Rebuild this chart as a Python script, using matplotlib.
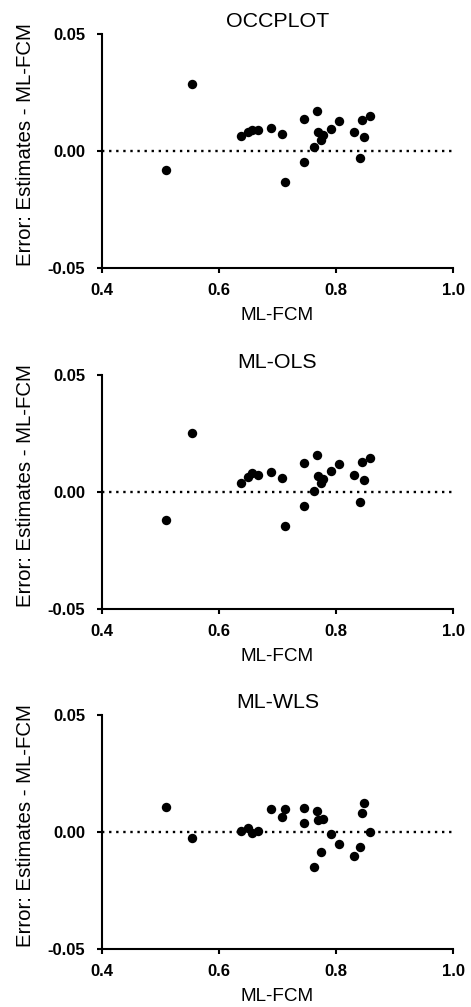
import numpy as np
import matplotlib
matplotlib.use('Agg')
import matplotlib.pyplot as plt

plt.rcParams['font.family'] = ['Liberation Sans', 'DejaVu Sans']

# ML-FCM values (shared x)
ml_fcm = [0.510, 0.554, 0.637, 0.650, 0.657, 0.666, 0.689, 0.707, 0.713, 0.745, 0.746, 0.763,
          0.767, 0.769, 0.774, 0.777, 0.791, 0.805, 0.831, 0.840, 0.845, 0.848, 0.858]

err_occplot = [-0.0080, 0.0286, 0.0063, 0.0080, 0.0090, 0.0091, 0.0100, 0.0075, -0.0131, 0.0139,
               -0.0048, 0.0018, 0.0169, 0.0080, 0.0048, 0.0067, 0.0095, 0.0129, 0.0080, -0.0031,
               0.0134, 0.0061, 0.0149]

err_mlols = [-0.0119, 0.0253, 0.0038, 0.0065, 0.0083, 0.0075, 0.0087, 0.0061, -0.0145, 0.0125,
             -0.0058, 0.0006, 0.0158, 0.0068, 0.0041, 0.0057, 0.0090, 0.0122, 0.0074, -0.0040,
             0.0128, 0.0054, 0.0145]

err_mlwls = [0.0108, -0.0024, 0.0006, 0.0017, -0.0003, 0.0004, 0.0098, 0.0063, 0.0098, 0.0105,
             0.0041, -0.0148, 0.0091, 0.0051, -0.0084, 0.0054, -0.0006, -0.0051, -0.0101, -0.0065,
             0.0080, 0.0126, -0.0001]

titles = ['OCCPLOT', 'ML-OLS', 'ML-WLS']
ys = [err_occplot, err_mlols, err_mlwls]
bottoms = [0.7336, 0.3949, 0.0573]

fig = plt.figure(figsize=(4.71, 10.07), dpi=100)

for title, y, b in zip(titles, ys, bottoms):
    ax = fig.add_axes([0.2159, b, 0.7465, 0.2327])
    ax.scatter(ml_fcm, y, s=46, color='black', zorder=3, linewidths=0)
    ax.axhline(0, color='black', linestyle=(0, (1, 2.0)), linewidth=1.7, zorder=2)
    ax.set_xlim(0.4, 1.0)
    ax.set_ylim(-0.05, 0.05)
    ax.set_xticks([0.4, 0.6, 0.8, 1.0])
    ax.set_yticks([-0.05, 0.0, 0.05])
    ax.set_xticklabels(['0.4', '0.6', '0.8', '1.0'])
    ax.set_yticklabels(['-0.05', '0.00', '0.05'])
    for s in ['top', 'right']:
        ax.spines[s].set_visible(False)
    for s in ['left', 'bottom']:
        ax.spines[s].set_linewidth(1.5)
    ax.tick_params(width=1.5, length=3.6, labelsize=12)
    ax.tick_params(axis='x', pad=7.2)
    ax.tick_params(axis='y', pad=8.2)
    for lab in ax.get_xticklabels() + ax.get_yticklabels():
        lab.set_fontweight('bold')
    ax.set_title(title, fontsize=15.4, pad=5.3)
    ax.set_xlabel('ML-FCM', fontsize=13.6, labelpad=6.5)
    ax.set_ylabel('Error: Estimates - ML-FCM', fontsize=14.7)
    ax.yaxis.set_label_coords(-0.19, 0.53)

plt.savefig('out.png', dpi=100)
plt.close()
